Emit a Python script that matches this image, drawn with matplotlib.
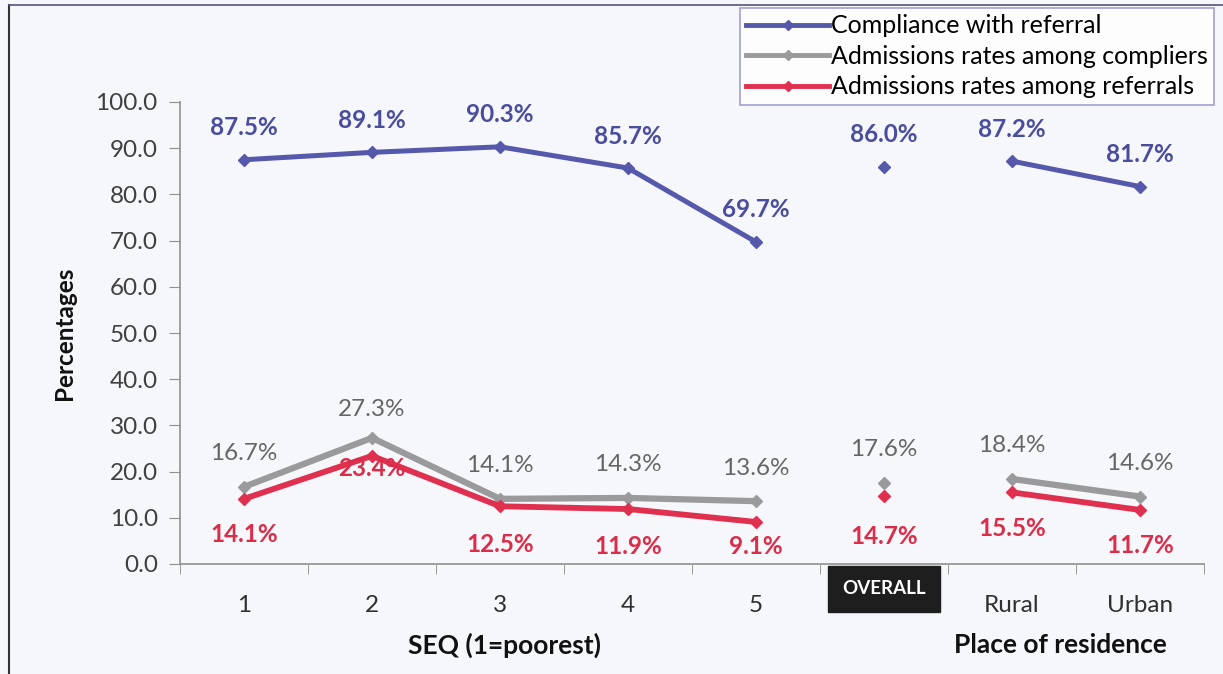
import matplotlib
matplotlib.use("Agg")
import matplotlib.pyplot as plt
import numpy as np
from matplotlib.lines import Line2D

categories = ["1", "2", "3", "4", "5", "OVERALL", "Rural", "Urban"]
compliance = [87.5, 89.1, 90.3, 85.7, 69.7, 86.0, 87.2, 81.7]
adm_compliers = [16.7, 27.3, 14.1, 14.3, 13.6, 17.6, 18.4, 14.6]
adm_referrals = [14.1, 23.4, 12.5, 11.9, 9.1, 14.7, 15.5, 11.7]
series_names = ["Compliance with referral", "Admissions rates among compliers",
                "Admissions rates among referrals"]
yticks = [0, 10, 20, 30, 40, 50, 60, 70, 80, 90, 100]

plt.rcParams['font.family'] = ['Lato', 'DejaVu Sans']

BLUE = "#5558ab"
BLUE_T = "#4a4d9e"
GRAY = "#9a9a9c"
GRAY_T = "#666666"
RED = "#e0304f"
RED_T = "#d92d4a"
BG = "#f6f7fb"

fig = plt.figure(figsize=(12.23, 6.74), dpi=100, facecolor=BG)
ax = fig.add_axes([180/1223, 1-564/674, 1024/1223, (564-102)/674])
ax.set_facecolor(BG)

x = np.arange(len(categories))
groups = [list(range(0, 5)), [5], [6, 7]]

def draw(vals, color, lw):
    for g in groups:
        xs = [x[i] for i in g]
        ys = [vals[i] for i in g]
        ax.plot(xs, ys, color=color, lw=lw, marker='D', ms=6.5, mec=color, mfc=color,
                solid_joinstyle='miter', zorder=3)

draw(adm_compliers, GRAY, 4.5)
draw(adm_referrals, RED, 4.2)
draw(compliance, BLUE, 3.6)

LFS = 17.5
for i, v in enumerate(compliance):
    ax.annotate(f"{v:.1f}%", (x[i], v), xytext=(0, 32), textcoords='offset pixels',
                ha='center', va='center', fontsize=LFS, fontweight='bold', color=BLUE_T)
for i, v in enumerate(adm_compliers):
    off = 28 if i == 1 else 33
    ax.annotate(f"{v:.1f}%", (x[i], v), xytext=(0, off), textcoords='offset pixels',
                ha='center', va='center', fontsize=LFS, color=GRAY_T)
red_offsets = [-36, -13, -38, -37, -25, -40, -36, -36]
for i, v in enumerate(adm_referrals):
    ax.annotate(f"{v:.1f}%", (x[i], v), xytext=(0, red_offsets[i]), textcoords='offset pixels',
                ha='center', va='center', fontsize=LFS, fontweight='bold', color=RED_T)

ax.set_xlim(-0.5, len(categories) - 0.5)
ax.set_ylim(0, 100)
ax.set_yticks(yticks)
ax.set_yticklabels([f"{t:.1f}" for t in yticks], fontsize=17.5, color="#404040")
ax.set_xticks(x)
ax.set_xticklabels([c if c != "OVERALL" else "" for c in categories],
                   fontsize=17.5, color="#303030")
ax.set_xticks(np.arange(-0.5, len(categories)), minor=True)
ax.tick_params(axis='x', which='major', length=0, pad=22)
ax.tick_params(axis='x', which='minor', length=7, color="#909090", direction='out')
ax.tick_params(axis='y', length=8, color="#909090", direction='out', pad=8)
for s in ['top', 'right']:
    ax.spines[s].set_visible(False)
for s in ['left', 'bottom']:
    ax.spines[s].set_color("#909090")
    ax.spines[s].set_linewidth(1.2)

# OVERALL category label in dark box
ov = categories.index("OVERALL")
ax.annotate("OVERALL", (x[ov], 0), xycoords=('data', 'axes fraction'),
            xytext=(0, -25), textcoords='offset pixels', ha='center', va='center',
            fontsize=13.5, fontweight='bold', color='white',
            bbox=dict(facecolor="#1e1e1e", edgecolor="#1e1e1e",
                      boxstyle="square,pad=0.75"))

ax.set_ylabel("Percentages", fontsize=17.5, fontweight='bold', color="#111111", labelpad=14)
fig.text(505/1223, 1-645/674, "SEQ (1=poorest)", ha='center', va='center',
         fontsize=19, fontweight='bold', color="#111111")
fig.text(1060/1223, 1-645/674, "Place of residence", ha='center', va='center',
         fontsize=19, fontweight='bold', color="#111111")

# outer frame lines (left and top)
fig.add_artist(Line2D([9/1223, 9/1223], [0, 1-5/674], color="#333333", lw=1.5))
fig.add_artist(Line2D([9/1223, 1], [1-5/674, 1-5/674], color="#555577", lw=1.2))

handles = [Line2D([], [], color=c, lw=3.5, marker='D', ms=5) for c in (BLUE, GRAY, RED)]
leg = fig.legend(handles, series_names, loc='upper left',
                 bbox_to_anchor=(740/1223, 1-8/674), fontsize=18, frameon=True,
                 fancybox=False, handlelength=3.3, handletextpad=0.1,
                 borderpad=0.25, labelspacing=0.3, borderaxespad=0)
leg.get_frame().set_edgecolor("#8a8ac8")
leg.get_frame().set_facecolor("white")
leg.get_frame().set_linewidth(1.2)

fig.savefig("out.png", dpi=100, facecolor=BG)
